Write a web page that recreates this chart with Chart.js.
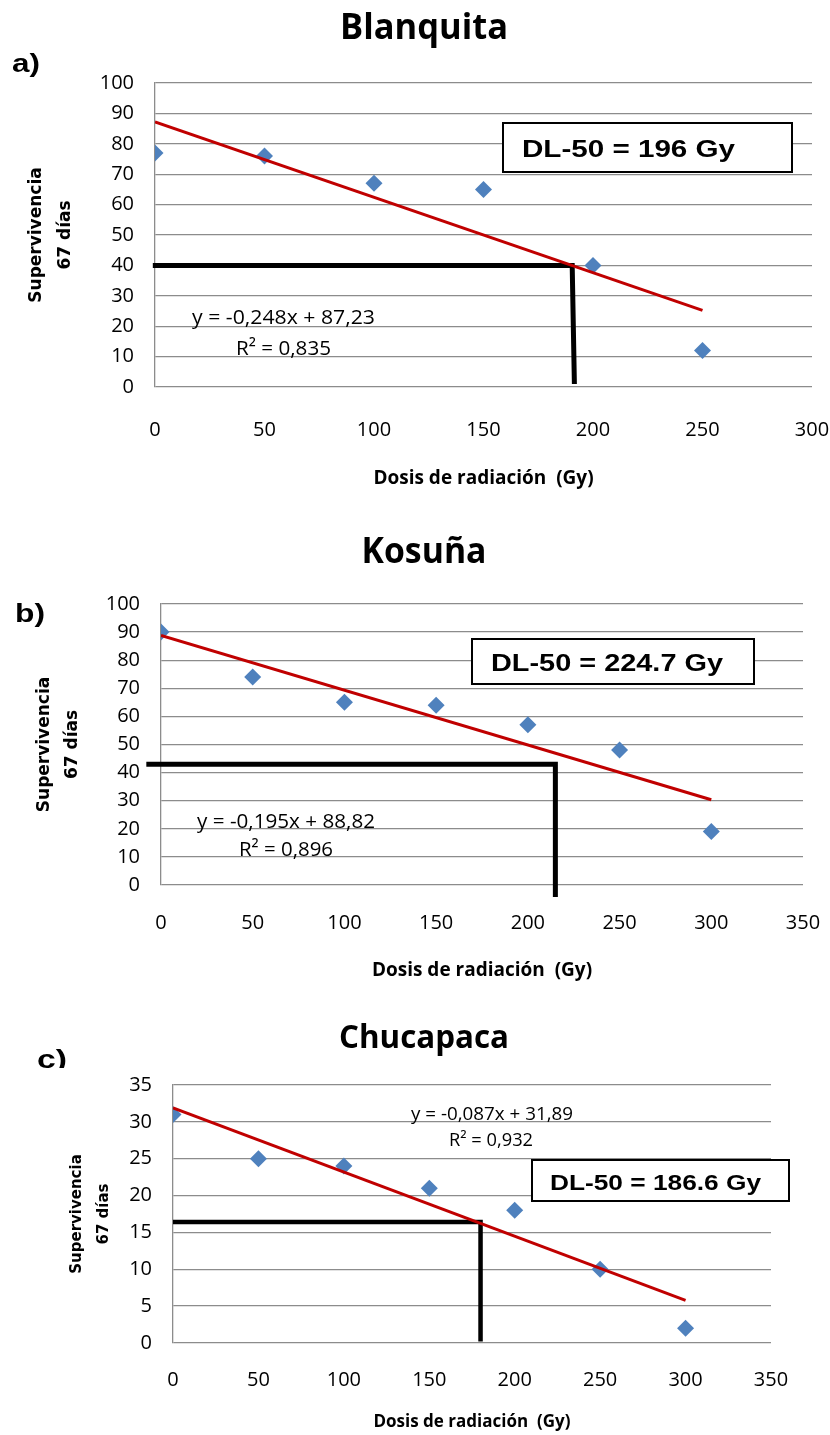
<!DOCTYPE html>
<html>
<head>
<meta charset="utf-8">
<script src="https://cdn.jsdelivr.net/npm/chart.js@4.4.0/dist/chart.umd.min.js"></script>
<style>
  body { margin: 0; background: #fff; width: 830px; height: 1435px; position: relative; overflow: hidden; }
  canvas { position: absolute; left: 0; }
</style>
</head>
<body>
<canvas id="graficoA" width="830" height="500" style="top:0"></canvas>
<canvas id="graficoB" width="830" height="500" style="top:500px"></canvas>
<canvas id="graficoC" width="830" height="435" style="top:1000px"></canvas>
<script>
// --- datos ---
const dosisA = [0, 50, 100, 150, 200, 250];
const supervivenciaA = [77, 76, 67, 65, 40, 12];
const tendenciaXA = [0, 250];
const tendenciaYA = [87.23, 25.23];
const dlXA = [-1, 190.5, 191.5];
const dlYA = [40, 40, 1];

const dosisB = [0, 50, 100, 150, 200, 250, 300];
const supervivenciaB = [90, 74, 65, 64, 57, 48, 19];
const tendenciaXB = [0, 300];
const tendenciaYB = [88.82, 30.32];
const dlXB = [-8, 215, 215];
const dlYB = [43, 43, -4.3];

const dosisC = [0, 50, 100, 150, 200, 250, 300];
const supervivenciaC = [31, 25, 24, 21, 18, 10, 2];
const tendenciaXC = [0, 300];
const tendenciaYC = [31.89, 5.79];
const dlXC = [0, 180, 180];
const dlYC = [16.4, 16.4, 0.2];

const tituloX = 'Dosis de radiación  (Gy)';
const tituloY = ['Supervivencia', '67 días'];

// --- textos y posiciones de cada panel ---
const paneles = {
  graficoA: {
    alto: 500, area: { left: 155, right: 812, top: 83, bottom: 387 },
    xMax: 300, yMax: 100, yPaso: 10, xPad: 31, yTitPad: 22.5, yTitSize: 17, yTitLh: 1.7, xTitSize: 19, xTitPad: 10,
    dlAncho: 5,
    titulo: { t: 'Blanquita', x: 424, y: 39, w: 168, size: 36 },
    letra: { t: 'a)', x: 12, y: 72, w: 28 },
    ecuacion: [{ t: 'y = -0,248x + 87,23', x: 283.5, y: 324, w: 183 }, { t: 'R² = 0,835', x: 283.5, y: 355, w: 95 }],
    ecSize: 20,
    caja: { t: 'DL-50 = 196 Gy', x0: 503, y0: 123, x1: 792, y1: 172, tx: 522, ty: 157, w: 213, size: 24 }
  },
  graficoB: {
    alto: 500, area: { left: 161, right: 803, top: 104, bottom: 385 },
    xMax: 350, yMax: 100, yPaso: 10, xPad: 26, yTitPad: 30.5, yTitSize: 17, yTitLh: 1.65, xTitSize: 19, xTitPad: 18,
    dlAncho: 5,
    titulo: { t: 'Kosuña', x: 424, y: 63, w: 125, size: 36 },
    letra: { t: 'b)', x: 15, y: 122, w: 30 },
    ecuacion: [{ t: 'y = -0,195x + 88,82', x: 286, y: 328, w: 178 }, { t: 'R² = 0,896', x: 286, y: 356, w: 94 }],
    ecSize: 20,
    caja: { t: 'DL-50 = 224.7 Gy', x0: 472, y0: 139, x1: 754, y1: 184, tx: 491, ty: 171, w: 232, size: 24 }
  },
  graficoC: {
    alto: 435, area: { left: 173, right: 771, top: 85, bottom: 343 },
    xMax: 350, yMax: 35, yPaso: 5, xPad: 25, yTitPad: 63.5, yTitSize: 15, yTitLh: 1.8, xTitSize: 17, xTitPad: 3,
    dlAncho: 4.5,
    titulo: { t: 'Chucapaca', x: 424, y: 48, w: 170, size: 32 },
    letra: { t: 'c)', x: 37, y: 68, w: 30, corte: 68 },
    ecuacion: [{ t: 'y = -0,087x + 31,89', x: 492, y: 120, w: 162 }, { t: 'R² = 0,932', x: 491, y: 146, w: 84 }],
    ecSize: 18,
    caja: { t: 'DL-50 = 186.6 Gy', x0: 532, y0: 160, x1: 789, y1: 201, tx: 550, ty: 190, w: 211, size: 22 }
  }
};

function escribir(ctx, txt, x, y, font, ancho, align) {
  ctx.save();
  ctx.font = font;
  const w = ctx.measureText(txt).width;
  ctx.translate(x, y);
  ctx.scale(ancho ? ancho / w : 1, 1);
  ctx.textAlign = align;
  ctx.textBaseline = 'alphabetic';
  ctx.fillStyle = '#000';
  ctx.fillText(txt, 0, 0);
  ctx.restore();
}

const extras = {
  id: 'extras',
  afterDraw(chart) {
    const p = paneles[chart.canvas.id];
    const ctx = chart.ctx;
    const t = p.titulo;
    escribir(ctx, t.t, t.x, t.y, 'bold ' + t.size + 'px "Open Sans"', t.w, 'center');

    const l = p.letra;
    ctx.save();
    if (l.corte) {
      ctx.beginPath();
      ctx.rect(0, 0, 200, l.corte);
      ctx.clip();
    }
    escribir(ctx, l.t, l.x, l.y, 'bold 26px "Liberation Sans"', l.w, 'left');
    ctx.restore();

    p.ecuacion.forEach(e => escribir(ctx, e.t, e.x, e.y, p.ecSize + 'px "Open Sans"', e.w, 'center'));

    const c = p.caja;
    ctx.save();
    ctx.fillStyle = '#fff';
    ctx.fillRect(c.x0, c.y0, c.x1 - c.x0, c.y1 - c.y0);
    ctx.strokeStyle = '#000';
    ctx.lineWidth = 2;
    ctx.strokeRect(c.x0, c.y0, c.x1 - c.x0, c.y1 - c.y0);
    ctx.restore();
    escribir(ctx, c.t, c.tx, c.ty, 'bold ' + c.size + 'px "Liberation Sans"', c.w, 'left');
  }
};

function puntos(xs, ys) {
  return xs.map((x, i) => ({ x: x, y: ys[i] }));
}

function crearGrafico(id, dosis, superv, tendX, tendY, dlX, dlY) {
  const p = paneles[id];
  return new Chart(document.getElementById(id), {
    type: 'scatter',
    data: {
      datasets: [
        {
          label: 'Lineal',
          data: puntos(tendX, tendY),
          showLine: true,
          borderColor: '#C00000',
          borderWidth: 3,
          pointRadius: 0
        },
        {
          label: 'DL-50',
          data: puntos(dlX, dlY),
          showLine: true,
          borderColor: '#000',
          borderWidth: p.dlAncho,
          borderJoinStyle: 'miter',
          pointRadius: 0,
          clip: false
        },
        {
          label: 'Supervivencia',
          data: puntos(dosis, superv),
          pointStyle: 'rectRot',
          pointRadius: 8.5,
          backgroundColor: '#4F81BD',
          borderColor: '#4F81BD',
          borderWidth: 0
        }
      ]
    },
    options: {
      responsive: false,
      animation: false,
      events: [],
      layout: { padding: { top: p.area.top, right: 830 - p.area.right, left: 0, bottom: 0 } },
      plugins: { legend: { display: false }, tooltip: { enabled: false } },
      scales: {
        x: {
          type: 'linear',
          min: 0,
          max: p.xMax,
          // the gap under the plot comes from an invisible tick length, so it does not widen the side padding
          ticks: { stepSize: 50, padding: 0, color: '#000', font: { family: 'Open Sans', size: 20 } },
          grid: { display: false, drawTicks: true, tickLength: p.xPad },
          border: { display: false },
          title: {
            display: true, text: tituloX, color: '#000',
            font: { family: 'Open Sans', weight: 'bold', size: p.xTitSize },
            padding: { top: 0, bottom: p.xTitPad }
          },
          afterFit: s => { s.height = p.alto - p.area.bottom; }
        },
        y: {
          min: 0,
          max: p.yMax,
          ticks: { stepSize: p.yPaso, padding: 21, color: '#000', font: { family: 'Open Sans', size: 20 } },
          grid: { color: '#8c8c8c', lineWidth: 1.3, drawTicks: false },
          border: { display: true, color: '#8c8c8c', width: 1.3 },
          title: {
            display: true, text: tituloY, color: '#000',
            font: { family: 'DejaVu Sans', weight: 'bold', size: p.yTitSize, lineHeight: p.yTitLh },
            padding: { top: p.yTitPad, bottom: 0 }
          },
          afterFit: s => { s.width = p.area.left; }
        }
      }
    },
    plugins: [extras]
  });
}

crearGrafico('graficoA', dosisA, supervivenciaA, tendenciaXA, tendenciaYA, dlXA, dlYA);
crearGrafico('graficoB', dosisB, supervivenciaB, tendenciaXB, tendenciaYB, dlXB, dlYB);
crearGrafico('graficoC', dosisC, supervivenciaC, tendenciaXC, tendenciaYC, dlXC, dlYC);
</script>
</body>
</html>
